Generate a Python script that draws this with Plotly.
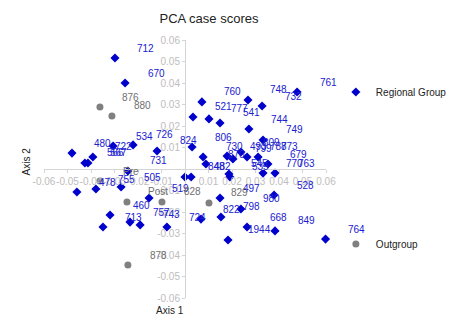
import plotly.graph_objects as go

# --- data (approximate) ---
reg_labels = ["712","670","760","521","777","541","748","732","761","744","749",
              "806","824","726","534","480","722","566","567","731","478","755",
              "505","519","460","713","757","743","724","822","848","482","730",
              "870","493","799","809","787","873","679","770","763","545","535",
              "497","528","980","798","668","849","1944","764"]
reg_x = [-0.0298,-0.0255,0.0072,0.0034,0.0102,0.0149,0.0268,0.0328,0.0477,0.0272,0.0332,
         0.0030,-0.0119,-0.0221,-0.0306,-0.0481,-0.0392,-0.0426,-0.0413,-0.0243,-0.0460,-0.0379,
         -0.0272,-0.0153,-0.0319,-0.0349,-0.0234,-0.0191,-0.0077,0.0068,0.0000,0.0026,0.0077,
         0.0089,0.0179,0.0204,0.0238,0.0264,0.0311,0.0353,0.0332,0.0383,0.0187,0.0191,
         0.0149,0.0379,0.0238,0.0153,0.0264,0.0383,0.0183,0.0598]
reg_y = [0.0516,0.0400,0.0312,0.0242,0.0233,0.0214,0.0321,0.0293,0.0358,0.0186,0.0135,
         0.0102,0.0084,0.0112,0.0107,0.0074,0.0056,0.0028,0.0028,-0.0009,-0.0107,-0.0093,
         -0.0084,-0.0135,-0.0214,-0.0270,-0.0247,-0.0260,-0.0270,-0.0233,-0.0037,-0.0037,0.0056,
         0.0023,0.0060,0.0047,0.0079,0.0056,0.0056,0.0023,-0.0019,-0.0019,-0.0023,-0.0037,
         -0.0135,-0.0121,-0.0186,-0.0223,-0.0270,-0.0288,-0.0330,-0.0326]

out_labels = ["876","880","Pre","Post","828","878","829"]
out_x = [-0.0362,-0.0311,-0.0362,-0.0247,-0.0098,-0.0243,0.0102]
out_y = [0.0288,0.0247,-0.0056,-0.0153,-0.0153,-0.0447,-0.0158]

tickvals = [-0.06,-0.05,-0.04,-0.03,-0.02,-0.01,0.01,0.02,0.03,0.04,0.05,0.06]
ticktext = ["-0.06","-0.05","-0.04","-0.03","-0.02","-0.01","0.01","0.02","0.03","0.04","0.05","0.06"]

BLUE = "#0000cc"
GREY = "#808080"
FONT = "Liberation Sans, Arial, sans-serif"

fig = go.Figure()
fig.add_trace(go.Scatter(x=reg_x, y=reg_y, mode="markers", name="Regional Group",
                         marker=dict(symbol="diamond", size=7, color=BLUE),
                         cliponaxis=False, legend="legend"))
fig.add_trace(go.Scatter(x=out_x, y=out_y, mode="markers", name="Outgroup",
                         marker=dict(symbol="circle", size=7, color=GREY),
                         cliponaxis=False, legend="legend2"))

for lab, x, y in zip(reg_labels, reg_x, reg_y):
    fig.add_annotation(x=x, y=y, text=lab, showarrow=False, xshift=31, yshift=10,
                       font=dict(family=FONT, size=10, color="#2020d0"))
for lab, x, y in zip(out_labels, out_x, out_y):
    fig.add_annotation(x=x, y=y, text=lab, showarrow=False, xshift=31, yshift=10,
                       font=dict(family=FONT, size=10, color="#707070"))

axis_common = dict(showgrid=False, zeroline=False, showline=True, linecolor="#d4d4d4",
                   linewidth=1, ticks="outside", ticklen=3, tickcolor="#d4d4d4",
                   tickangle=0,
                   tickfont=dict(family=FONT, size=10, color="#bdbdbd"),
                   tickvals=tickvals, ticktext=ticktext)
fig.update_layout(
    width=474, height=325,
    margin=dict(l=44, r=148, t=40, b=27),
    paper_bgcolor="white", plot_bgcolor="white",
    title=dict(text="PCA case scores", x=209/474, xanchor="center", y=1-18/325, yanchor="middle",
               font=dict(family=FONT, size=13, color="#222222")),
    xaxis=dict(range=[-0.06, 0.06], anchor="free", position=0.5, **axis_common),
    yaxis=dict(range=[-0.06, 0.06], anchor="free", position=0.5, **axis_common),
    legend=dict(x=1.035, y=(325-92-27)/(325-40-27), xanchor="left", yanchor="middle",
                font=dict(family=FONT, size=10, color="#222"), bgcolor="rgba(0,0,0,0)",
                itemwidth=30),
    legend2=dict(x=1.035, y=(325-244-27)/(325-40-27), xanchor="left", yanchor="middle",
                 font=dict(family=FONT, size=10, color="#222"), bgcolor="rgba(0,0,0,0)",
                 itemwidth=30),
    showlegend=True,
)
fig.add_annotation(text="Axis 1", xref="paper", yref="paper", x=(170-44)/282, y=-(318-298)/258,
                   showarrow=False, font=dict(family=FONT, size=10, color="#222"))
fig.add_annotation(text="Axis 2", xref="paper", yref="paper", x=-(44-18)/282, y=(298-162)/258,
                   showarrow=False, textangle=-90, font=dict(family=FONT, size=10, color="#222"))

fig.write_html("out.html")
